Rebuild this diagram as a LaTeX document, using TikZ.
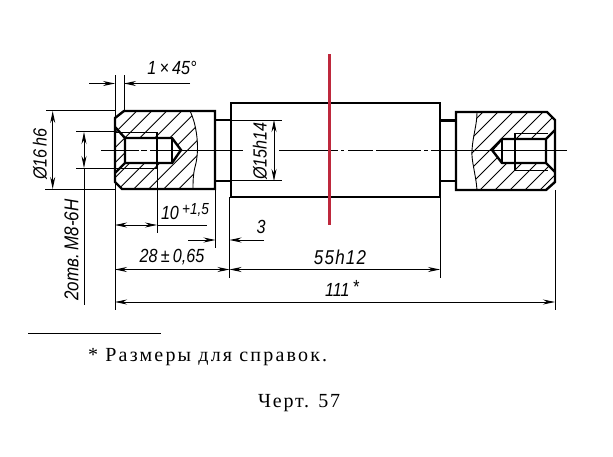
\documentclass[tikz,border=0pt]{standalone}
\usepackage{fontspec}
\setmainfont{Liberation Serif}
\newfontfamily\draftfont[FakeStretch=0.85,ItalicFont={Liberation Sans Italic}]{Liberation Sans}
\usetikzlibrary{arrows.meta}
\definecolor{redline}{RGB}{190,40,60}
\tikzset{
  x=1pt,y=-1pt,
  outline/.style={line width=2.4pt,line join=miter,black},
  thin line/.style={line width=0.9pt,black},
  hatch/.style={line width=0.9pt,black},
  dim/.style={thin line,{Stealth[length=12pt,width=5pt]}-{Stealth[length=12pt,width=5pt]}},
  dimr/.style={thin line,-{Stealth[length=12pt,width=5pt]}},
  draft/.style={font=\fontsize{19}{21}\selectfont\draftfont\itshape,inner sep=0pt,text=black},
  caption/.style={font=\fontsize{20}{22}\selectfont\addfontfeatures{LetterSpace=9},inner sep=0pt,text=black},
  captionwide/.style={font=\fontsize{20}{22}\selectfont\addfontfeatures{LetterSpace=11},inner sep=0pt,text=black}
}
\begin{document}
\begin{tikzpicture}
\useasboundingbox (0,0) rectangle (613,456);
% hatching, left block: lines x+y = const
\begin{scope}
\clip (115,118) -- (124,111) -- (190,111) .. controls (197,125) and (200,150) .. (195,167) .. controls (193,175) and (193,182) .. (193,189) -- (122,189) -- (115,182) -- cycle;
\foreach \k in {-2,...,10} \draw[hatch] ({247.7+\k*15-200},200) -- ({247.7+\k*15-100},100);
\end{scope}
\fill[white] (125,138) -- (172,138) -- (181,150) -- (172,163) -- (125,163) -- cycle;
% hatching, right block
\begin{scope}
\clip (477,112) -- (547,112) -- (555,120) -- (555,182) -- (546,190) -- (477,190) .. controls (476,175) and (471,160) .. (472,150) .. controls (473,135) and (477,125) .. (477,112) -- cycle;
\foreach \k in {-3,...,10} \draw[hatch] ({610+\k*15-200},200) -- ({610+\k*15-100},100);
\end{scope}
\fill[white] (555,130) -- (546,139) -- (502,139) -- (492,150) -- (502,163) -- (546,163) -- (555,172) -- cycle;
% left block outline
\draw[outline] (215,111) -- (124,111) -- (115,118) -- (115,182) -- (122,189) -- (215,189) -- cycle;
\draw[outline] (115,127) -- (125,138) -- (125,163) -- (115,173);
\draw[outline] (125,138) -- (172,138) -- (181,150) -- (172,163) -- (125,163);
\draw[outline] (172,138) -- (172,163);
\draw[outline] (157,132) -- (157,168);
\draw[thin line] (115,132) -- (157,132) (115,168.5) -- (157,168.5);
\draw[thin line] (190,111) .. controls (197,125) and (200,150) .. (195,167) .. controls (193,175) and (193,182) .. (193,189);
% necks
\draw[outline] (215,120) -- (231,120) (215,181) -- (231,181);
\draw[outline] (440,120.5) -- (456,120.5) (440,181) -- (456,181);
% centre block
\draw[outline] (231,103) rectangle (440,197);
% right block outline
\draw[outline] (456,112) -- (547,112) -- (555,120) -- (555,182) -- (546,190) -- (456,190) -- cycle;
\draw[outline] (555,130) -- (546,139) -- (546,163) -- (555,172);
\draw[outline] (546,139) -- (502,139) -- (492,150) -- (502,163) -- (546,163);
\draw[outline] (502,139) -- (502,163);
\draw[outline] (515,133) -- (515,170);
\draw[thin line] (515,133) -- (548,133) (515,170) -- (548,170);
\draw[thin line] (477,112) .. controls (477,125) and (473,135) .. (472,150) .. controls (471,160) and (476,175) .. (477,190);
% centre line
\draw[thin line] (101,150) -- (139,150) (141,150) -- (147,150) (150,150) -- (243,150)
  (279,150) -- (338,150) (341,150) -- (344,150) (348,150) -- (373,150) (376,150) -- (421,150) (424,150) -- (428,150) (431,150) -- (567,150);
% extension lines
\draw[thin line] (115,75) -- (115,310);
\draw[thin line] (124,75) -- (124,111);
\draw[thin line] (46,110.5) -- (115,110.5) (45,189.5) -- (115,189.5);
\draw[thin line] (76,131.5) -- (115,131.5) (76,168.5) -- (115,168.5);
\draw[thin line] (157,168) -- (157,233);
\draw[thin line] (215.5,189) -- (215.5,248);
\draw[thin line] (229.5,197) -- (229.5,278);
\draw[thin line] (440,197) -- (440,278);
\draw[thin line] (555,190) -- (555,310);
\draw[thin line] (231,120) -- (282,120) (231,180.7) -- (282,180.7);
% dimensions
\draw[dimr] (89,83.5) -- (115,83.5);
\draw[dimr] (190,83.5) -- (124,83.5);
\draw[dim] (52.7,111) -- (52.7,189);
\draw[dim] (84,132) -- (84,168);
\draw[thin line] (84,168) -- (84,305);
\draw[dim] (274,120) -- (274,181);
\draw[dim] (115,225) -- (157,225);
\draw[thin line] (157,225) -- (207,225);
\draw[dimr] (188,240) -- (215.5,240);
\draw[dimr] (264,240) -- (229.5,240);
\draw[dim] (115,269.5) -- (229.5,269.5);
\draw[dim] (229.5,269.5) -- (440,269.5);
\draw[dim] (115,302) -- (555,302);
% labels
\node[draft] (chamfer) at (172,68) {1\,×\,45°};
\node[draft,rotate=90] (dia16) at (40,154) {Ø16\,h6};
\node[draft,rotate=90,font=\fontsize{20}{22}\selectfont\draftfont\itshape] (thread) at (71.5,250) {2отв.\,М8-6Н};
\node[draft,rotate=90] (dia15) at (260,151) {Ø15h14};
\node[draft] (len10) at (185,212) {10\,\raisebox{5pt}{\fontsize{16}{17}\selectfont +1,5}};
\node[draft] (len3) at (261,227) {3};
\node[draft] (len28) at (172,257) {28\,±\,0,65};
\node[draft,font=\fontsize{20}{22}\selectfont\draftfont\itshape\addfontfeatures{LetterSpace=6}] (len55) at (340,257) {55h12};
\node[draft] (len111) at (342,288) {111\,\raisebox{3pt}{*}};
% red line
\draw[redline,line width=2.6pt] (329.5,54) -- (329.5,225);
% footnote
\draw[line width=0.7pt,black] (28,333) -- (161,333);
\node[captionwide,anchor=base west] (note) at (88,361) {* Размеры для справок.};
\node[caption,anchor=base west] (fig) at (258,407) {Черт. 57};
\end{tikzpicture}
\end{document}
